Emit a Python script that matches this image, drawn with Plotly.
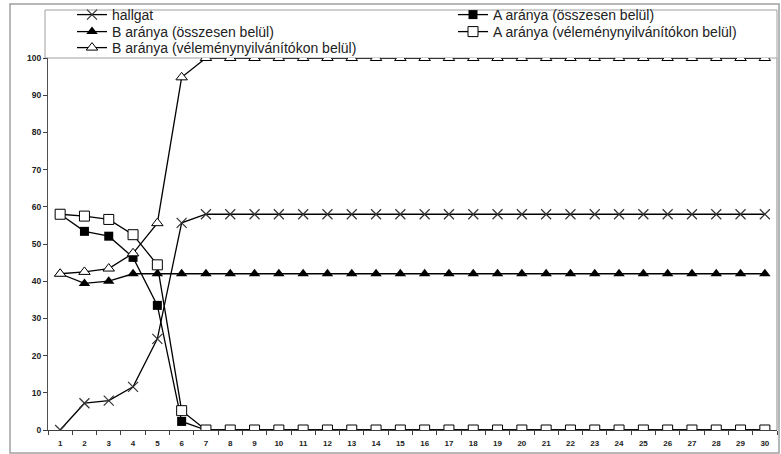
import plotly.graph_objects as go

categories = list(range(1, 31))
hallgat = [0, 7.2, 7.9, 11.6, 24.5, 55.7] + [58] * 24
a_osszes = [58, 53.4, 52.1, 46.4, 33.5, 2.3] + [0] * 24
b_osszes = [42, 39.4, 40, 42, 42, 42] + [42] * 24
a_velemeny = [58, 57.5, 56.6, 52.5, 44.4, 5.2] + [0] * 24
b_velemeny = [42, 42.5, 43.4, 47.5, 55.6, 94.8] + [100] * 24

names = [
    "hallgat",
    "A aránya (összesen belül)",
    "B aránya (összesen belül)",
    "A aránya (véleménynyilvánítókon belül)",
    "B aránya (véleménynyilvánítókon belül)",
]

W, H = 781, 454
L, R, T, B = 48, 4, 58, 24
pw, ph = W - L - R, H - T - B
FONT = "Arial, Liberation Sans, sans-serif"

def px(x):
    return (x - L) / pw

def py(y):
    return (H - B - y) / ph

LINE = dict(color="black", width=1.3)
fig = go.Figure()
fig.add_trace(go.Scatter(x=categories, y=hallgat, name=names[0], mode="lines+markers",
                         legend="legend", line=LINE,
                         marker=dict(symbol="x-thin", size=10, line=dict(color="#333", width=1.2))))
fig.add_trace(go.Scatter(x=categories, y=a_osszes, name=names[1], mode="lines+markers",
                         legend="legend2", line=LINE,
                         marker=dict(symbol="square", size=9, color="black")))
fig.add_trace(go.Scatter(x=categories, y=b_osszes, name=names[2], mode="lines+markers",
                         legend="legend3", line=LINE,
                         marker=dict(symbol="triangle-up", size=10, color="black")))
fig.add_trace(go.Scatter(x=categories, y=a_velemeny, name=names[3], mode="lines+markers",
                         legend="legend4", line=LINE,
                         marker=dict(symbol="square", size=10, color="white",
                                     line=dict(color="black", width=1))))
fig.add_trace(go.Scatter(x=categories, y=b_velemeny, name=names[4], mode="lines+markers",
                         legend="legend5", line=LINE,
                         marker=dict(symbol="triangle-up", size=10, color="white",
                                     line=dict(color="black", width=1))))

leg_common = dict(orientation="v", xanchor="left", yanchor="top",
                  font=dict(size=14, family=FONT, color="#222"),
                  bgcolor="rgba(0,0,0,0)", borderwidth=0, itemwidth=30)

OFF = 17
rows = [16, 33, 49]
col1, col2 = 72, 453

fig.update_layout(
    width=W, height=H,
    margin=dict(l=L, r=R, t=T, b=B, pad=0, autoexpand=False),
    paper_bgcolor="white", plot_bgcolor="white",
    font=dict(family=FONT, color="black"),
    showlegend=True,
    legend=dict(x=px(col1), y=py(rows[0] - OFF), **leg_common),
    legend2=dict(x=px(col2), y=py(rows[0] - OFF), **leg_common),
    legend3=dict(x=px(col1), y=py(rows[1] - OFF), **leg_common),
    legend4=dict(x=px(col2), y=py(rows[1] - OFF), **leg_common),
    legend5=dict(x=px(col1), y=py(rows[2] - OFF), **leg_common),
    xaxis=dict(
        range=[0.5, 30.5], tickmode="array", tickvals=categories,
        ticktext=[str(c) for c in categories], ticks="", showgrid=False,
        zeroline=False, showline=True, linecolor="#404040", linewidth=1,
        ticklabelstandoff=5,
        tickfont=dict(size=8, family=FONT, weight="bold", color="#222"),
        minor=dict(tickmode="linear", tick0=0.5, dtick=1, ticks="outside",
                   ticklen=4, tickcolor="#404040", showgrid=False),
    ),
    yaxis=dict(
        range=[0, 100], tickmode="linear", tick0=0, dtick=10, ticks="outside",
        ticklen=4, tickcolor="#404040", showgrid=False, zeroline=False,
        showline=True, linecolor="#505050", linewidth=1,
        tickfont=dict(size=8.5, family=FONT, weight="bold", color="#222"),
    ),
    shapes=[
        dict(type="rect", xref="paper", yref="paper",
             x0=px(10), x1=px(779), y0=py(453), y1=py(4),
             line=dict(color="#a0a0a0", width=1.5), fillcolor="rgba(0,0,0,0)", layer="below"),
        dict(type="rect", xref="paper", yref="paper",
             x0=px(45), x1=1, y0=1, y1=py(10),
             line=dict(color="#a0a0a0", width=1), fillcolor="rgba(0,0,0,0)", layer="below"),
        dict(type="line", xref="paper", yref="paper", x0=1, x1=1, y0=0, y1=1,
             line=dict(color="#b0b0b0", width=1.5)),
    ],
)

fig.write_html("out.html", config={"displayModeBar": False},
               post_script="document.body.style.margin='0';document.body.style.overflow='hidden';")
